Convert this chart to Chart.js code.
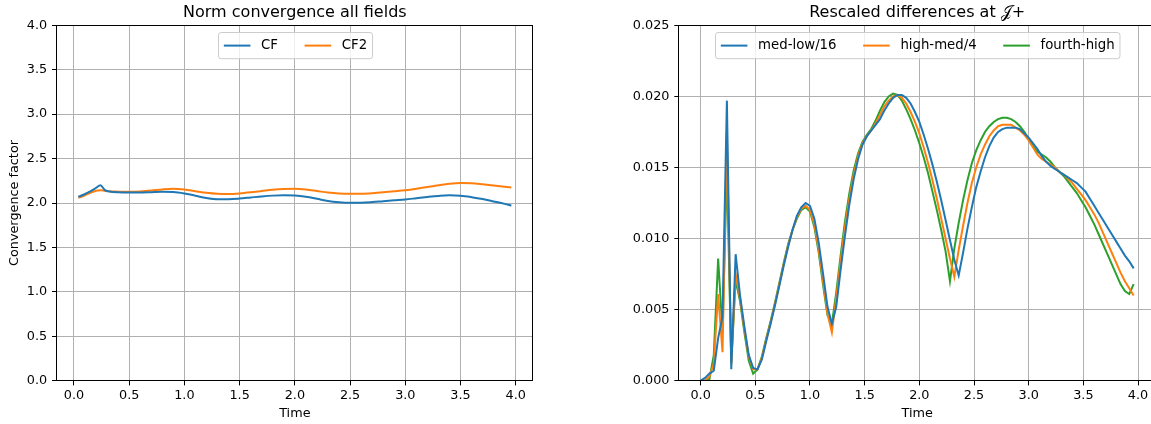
<!DOCTYPE html>
<html><head><meta charset="utf-8">
<script src="https://cdn.jsdelivr.net/npm/chart.js@4/dist/chart.umd.min.js"></script>
<style>
html,body{margin:0;padding:0;background:#fff;overflow:hidden;width:1151px;height:424px;position:relative;}
#c1{position:absolute;left:0;top:0;}
#c2{position:absolute;left:600px;top:0;}
</style></head><body>
<canvas id="c1" width="560" height="424"></canvas>
<canvas id="c2" width="560" height="424"></canvas>
<script>
// ---------- data: left panel ----------
const timeCF = [0.04,0.08,0.12,0.16,0.20,0.24,0.28,0.32,0.40,0.50,0.60,0.70,0.80,0.90,1.00,1.10,1.20,1.30,1.40,1.50,1.60,1.70,1.80,1.90,2.00,2.10,2.20,2.30,2.40,2.50,2.60,2.70,2.80,2.90,3.00,3.10,3.20,3.30,3.40,3.50,3.60,3.70,3.80,3.90,3.96];
const cf  = [2.070,2.090,2.115,2.140,2.170,2.200,2.145,2.130,2.120,2.117,2.118,2.122,2.126,2.124,2.108,2.082,2.057,2.043,2.043,2.050,2.062,2.074,2.083,2.087,2.084,2.070,2.047,2.022,2.008,2.002,2.003,2.010,2.020,2.030,2.040,2.054,2.068,2.080,2.087,2.082,2.066,2.045,2.018,1.990,1.970];
const cf2 = [2.060,2.075,2.100,2.120,2.138,2.143,2.137,2.132,2.128,2.126,2.130,2.140,2.153,2.160,2.152,2.133,2.115,2.104,2.102,2.108,2.120,2.135,2.150,2.158,2.160,2.152,2.135,2.117,2.107,2.104,2.105,2.111,2.120,2.131,2.143,2.160,2.180,2.200,2.217,2.225,2.222,2.210,2.196,2.183,2.175];
const leftLabels = ['CF','CF2'];
const leftYTicks = [0,0.5,1,1.5,2,2.5,3,3.5,4];

// ---------- data: right panel (t = 0.00 ... 3.96, step 0.04) ----------
const timeJ = [0.00,0.04,0.08,0.12,0.16,0.20,0.24,0.28,0.32,0.36,0.40,0.44,0.48,0.52,0.56,0.60,0.64,0.68,0.72,0.76,0.80,0.84,0.88,0.92,0.96,1.00,1.04,1.08,1.12,1.16,1.20,1.24,1.28,1.32,1.36,1.40,1.44,1.48,1.52,1.56,1.60,1.64,1.68,1.72,1.76,1.80,1.84,1.88,1.92,1.96,2.00,2.04,2.08,2.12,2.16,2.20,2.24,2.28,2.32,2.36,2.40,2.44,2.48,2.52,2.56,2.60,2.64,2.68,2.72,2.76,2.80,2.84,2.88,2.92,2.96,3.00,3.04,3.08,3.12,3.16,3.20,3.24,3.28,3.32,3.36,3.40,3.44,3.48,3.52,3.56,3.60,3.64,3.68,3.72,3.76,3.80,3.84,3.88,3.92,3.96];
const medLow = [0.0000,0.0002,0.0005,0.0007,0.0030,0.0045,0.0197,0.0008,0.0089,0.0060,0.0038,0.0018,0.0009,0.0008,0.0015,0.0028,0.0040,0.0053,0.0067,0.0081,0.0094,0.0106,0.0116,0.0122,0.0125,0.0123,0.0114,0.0097,0.0075,0.0052,0.0040,0.0052,0.0078,0.0102,0.0124,0.0142,0.0156,0.0166,0.0172,0.0176,0.0180,0.0184,0.0190,0.0195,0.0199,0.0201,0.0201,0.0199,0.0195,0.0189,0.0182,0.0173,0.0163,0.0152,0.0140,0.0127,0.0113,0.0099,0.0085,0.0074,0.0090,0.0107,0.0122,0.0136,0.0147,0.0157,0.0165,0.0171,0.0175,0.0177,0.0178,0.0178,0.0178,0.0177,0.0174,0.0171,0.0167,0.0163,0.0158,0.0154,0.0151,0.0149,0.0147,0.0145,0.0143,0.0141,0.0139,0.0136,0.0133,0.0128,0.0123,0.0118,0.0113,0.0108,0.0103,0.0098,0.0093,0.0088,0.0084,0.0079];
const highMed = [0.0000,0.0000,0.0003,0.0012,0.0061,0.0020,0.0174,0.0012,0.0075,0.0058,0.0036,0.0017,0.0008,0.0008,0.0016,0.0029,0.0041,0.0054,0.0068,0.0082,0.0095,0.0106,0.0115,0.0121,0.0123,0.0120,0.0110,0.0092,0.0070,0.0047,0.0034,0.0058,0.0084,0.0108,0.0128,0.0145,0.0158,0.0167,0.0172,0.0176,0.0181,0.0187,0.0193,0.0197,0.0200,0.0201,0.0199,0.0195,0.0189,0.0182,0.0174,0.0164,0.0153,0.0141,0.0128,0.0114,0.0100,0.0086,0.0073,0.0092,0.0109,0.0125,0.0139,0.0150,0.0159,0.0166,0.0172,0.0176,0.0179,0.0180,0.0180,0.0180,0.0178,0.0176,0.0173,0.0169,0.0164,0.0159,0.0156,0.0154,0.0152,0.0150,0.0147,0.0145,0.0142,0.0139,0.0135,0.0131,0.0127,0.0122,0.0117,0.0111,0.0104,0.0097,0.0090,0.0083,0.0076,0.0070,0.0065,0.0060];
const fourthHigh = [0.0000,0.0000,0.0001,0.0018,0.0086,0.0034,0.0150,0.0013,0.0071,0.0056,0.0034,0.0014,0.0005,0.0008,0.0017,0.0030,0.0042,0.0055,0.0069,0.0083,0.0096,0.0106,0.0114,0.0120,0.0122,0.0119,0.0108,0.0090,0.0067,0.0046,0.0040,0.0062,0.0088,0.0112,0.0132,0.0148,0.0160,0.0168,0.0173,0.0177,0.0183,0.0190,0.0196,0.0200,0.0202,0.0201,0.0197,0.0191,0.0184,0.0176,0.0167,0.0157,0.0146,0.0133,0.0120,0.0106,0.0091,0.0070,0.0093,0.0111,0.0127,0.0141,0.0153,0.0162,0.0169,0.0175,0.0179,0.0182,0.0184,0.0185,0.0185,0.0184,0.0182,0.0179,0.0175,0.0170,0.0165,0.0161,0.0159,0.0157,0.0154,0.0150,0.0147,0.0144,0.0140,0.0136,0.0132,0.0127,0.0122,0.0116,0.0110,0.0103,0.0096,0.0089,0.0082,0.0075,0.0068,0.0063,0.0061,0.0068];
const rightLabels = ['med-low/16','high-med/4','fourth-high'];
const rightYTicks = [0,0.005,0.010,0.015,0.020,0.025];
const timeTicks = [0,0.5,1,1.5,2,2.5,3,3.5,4];

// ---------- styling ----------
const FONT = 'DejaVu Sans';
const FS = 12.8;
const LFS = 13.3;
const COLORS = ['#1f77b4','#ff7f0e','#2ca02c'];

const pts = (xs, ys) => xs.map((x,i)=>({x:x, y:ys[i]}));

const framePlugin = {
  id:'frame',
  afterDatasetsDraw(chart, args, opts){
    const {ctx, chartArea:a} = chart;
    ctx.save();
    ctx.strokeStyle = '#000'; ctx.lineWidth = 1;
    const l = Math.round(a.left)-0.5, r = Math.round(a.right)-0.5, t = Math.round(a.top)+0.5, b = Math.round(a.bottom)-0.5;
    ctx.beginPath();
    ctx.moveTo(l, t); ctx.lineTo(r + 0.5, t);
    ctx.moveTo(l, t); ctx.lineTo(l, b);
    ctx.moveTo(l - 0.5, b); ctx.lineTo(r + 0.5, b);
    if (opts.right !== false) { ctx.moveTo(r, t); ctx.lineTo(r, b); }
    ctx.stroke();
    ctx.restore();
  }
};

const titlePlugin = {
  id:'axTitle',
  afterDraw(chart, args, opts){
    const {ctx, chartArea:a} = chart;
    ctx.save();
    ctx.font = '16px "' + FONT + '"';
    ctx.fillStyle = '#000'; ctx.textAlign = 'center'; ctx.textBaseline = 'middle';
    ctx.fillText(opts.text || '', (a.left + a.right)/2, 12.6);
    ctx.restore();
  }
};

const legendPlugin = {
  id:'mplLegend',
  afterDraw(chart){
    const {ctx, chartArea:a} = chart;
    ctx.save();
    ctx.font = LFS + 'px "' + FONT + '"';
    const items = chart.data.datasets.map(d=>({label:d.label, color:d.borderColor, w:ctx.measureText(d.label).width}));
    const handle = 2*LFS, hpad = 0.8*LFS, colsp = 2*LFS, bpad = 0.4*LFS, axpad = 0.5*LFS;
    const inner = items.reduce((s,it)=>s+handle+hpad+it.w,0) + colsp*(items.length-1);
    const rowH = 1.17*LFS;
    const boxW = inner + 2*bpad, boxH = rowH + 2*bpad;
    const x0 = Math.round((a.left + a.right)/2 - boxW/2)+0.5, y0 = Math.round(a.top + axpad)+0.5;
    ctx.beginPath();
    ctx.roundRect(x0, y0, boxW, boxH, 0.2*LFS);
    ctx.fillStyle = 'rgba(255,255,255,0.8)'; ctx.fill();
    ctx.strokeStyle = '#cccccc'; ctx.lineWidth = 1; ctx.stroke();
    let x = x0 + bpad;
    const cy = y0 + bpad + rowH/2;
    items.forEach(it=>{
      ctx.beginPath(); ctx.strokeStyle = it.color; ctx.lineWidth = 2;
      ctx.moveTo(x, cy); ctx.lineTo(x+handle, cy); ctx.stroke();
      x += handle + hpad;
      ctx.fillStyle = '#000'; ctx.textBaseline = 'middle'; ctx.textAlign = 'left';
      ctx.fillText(it.label, x, cy);
      x += it.w + colsp;
    });
    ctx.restore();
  }
};

function fixTicks(arr){ return (scale)=>{ scale.ticks = arr.map(v=>({value:v})); }; }

function makeChart(canvas, cfg){
  const {datasets, title, yTitle, xMin, xMax, yMax, yTicks, yDigits, yWidth, padRight, rightSpine} = cfg;
  return new Chart(canvas, {
    type:'line',
    data:{datasets},
    options:{
      responsive:false, animation:false, devicePixelRatio:1,
      layout:{padding:{left:0, right:padRight, top:25.3, bottom:0}},
      plugins:{
        legend:{display:false}, tooltip:{enabled:false}, title:{display:false},
        axTitle:{text:title},
        frame:{right:rightSpine}
      },
      elements:{point:{radius:0}},
      scales:{
        x:{type:'linear', min:xMin, max:xMax,
          afterBuildTicks:fixTicks(timeTicks),
          afterFit:(s)=>{ s.height = 424-380.7; s.paddingLeft = 0; s.paddingRight = 0; },
          grid:{color:'#b0b0b0', lineWidth:1, tickColor:'#000', tickLength:4.7, drawTicks:true},
          border:{display:false},
          ticks:{color:'#000', font:{family:FONT, size:FS}, padding:3, maxRotation:0, autoSkip:false, callback:(v)=>Number(v).toFixed(1)},
          title:{display:true, text:'Time', color:'#000', font:{family:FONT, size:FS, lineHeight:1.2}, padding:{top:3, bottom:3}}
        },
        y:{type:'linear', min:0, max:yMax,
          afterBuildTicks:fixTicks(yTicks),
          afterFit:(s)=>{ s.width = yWidth; s.paddingTop = 0; s.paddingBottom = 0; },
          grid:{color:'#b0b0b0', lineWidth:1, tickColor:'#000', tickLength:4.7, drawTicks:true},
          border:{display:false},
          ticks:{color:'#000', font:{family:FONT, size:FS}, padding:4.8, autoSkip:false, callback:(v)=>Number(v).toFixed(yDigits)},
          title:{display:!!yTitle, text:yTitle||'', color:'#000', font:{family:FONT, size:FS, lineHeight:1.2}, padding:{top:6.5, bottom:0}}
        }
      }
    },
    plugins:[framePlugin, titlePlugin, legendPlugin]
  });
}

makeChart(document.getElementById('c1'), {
  datasets:[
    {label:leftLabels[0], data:pts(timeCF, cf), borderColor:COLORS[0], borderWidth:2, tension:0.4, cubicInterpolationMode:'monotone', fill:false},
    {label:leftLabels[1], data:pts(timeCF, cf2), borderColor:COLORS[1], borderWidth:2, tension:0.4, cubicInterpolationMode:'monotone', fill:false}
  ],
  title:'Norm convergence all fields', yTitle:'Convergence factor',
  xMin:-0.156, xMax:4.156, yMax:4, yTicks:leftYTicks, yDigits:1, yWidth:56.7, padRight:560-533, rightSpine:true
});

// right axes box spans page x 679 .. 1155; the window cuts it at 1151
makeChart(document.getElementById('c2'), {
  datasets:[
    {label:rightLabels[0], data:pts(timeJ, medLow), borderColor:COLORS[0], borderWidth:2, tension:0, fill:false},
    {label:rightLabels[1], data:pts(timeJ, highMed), borderColor:COLORS[1], borderWidth:2, tension:0, fill:false},
    {label:rightLabels[2], data:pts(timeJ, fourthHigh), borderColor:COLORS[2], borderWidth:2, tension:0, fill:false}
  ],
  title:'Rescaled differences at \u{1D4A5}+', yTitle:null,
  xMin:-0.198, xMax:4.158, yMax:0.025, yTicks:rightYTicks, yDigits:3, yWidth:79, padRight:4.7, rightSpine:false
});
</script>
</body></html>
